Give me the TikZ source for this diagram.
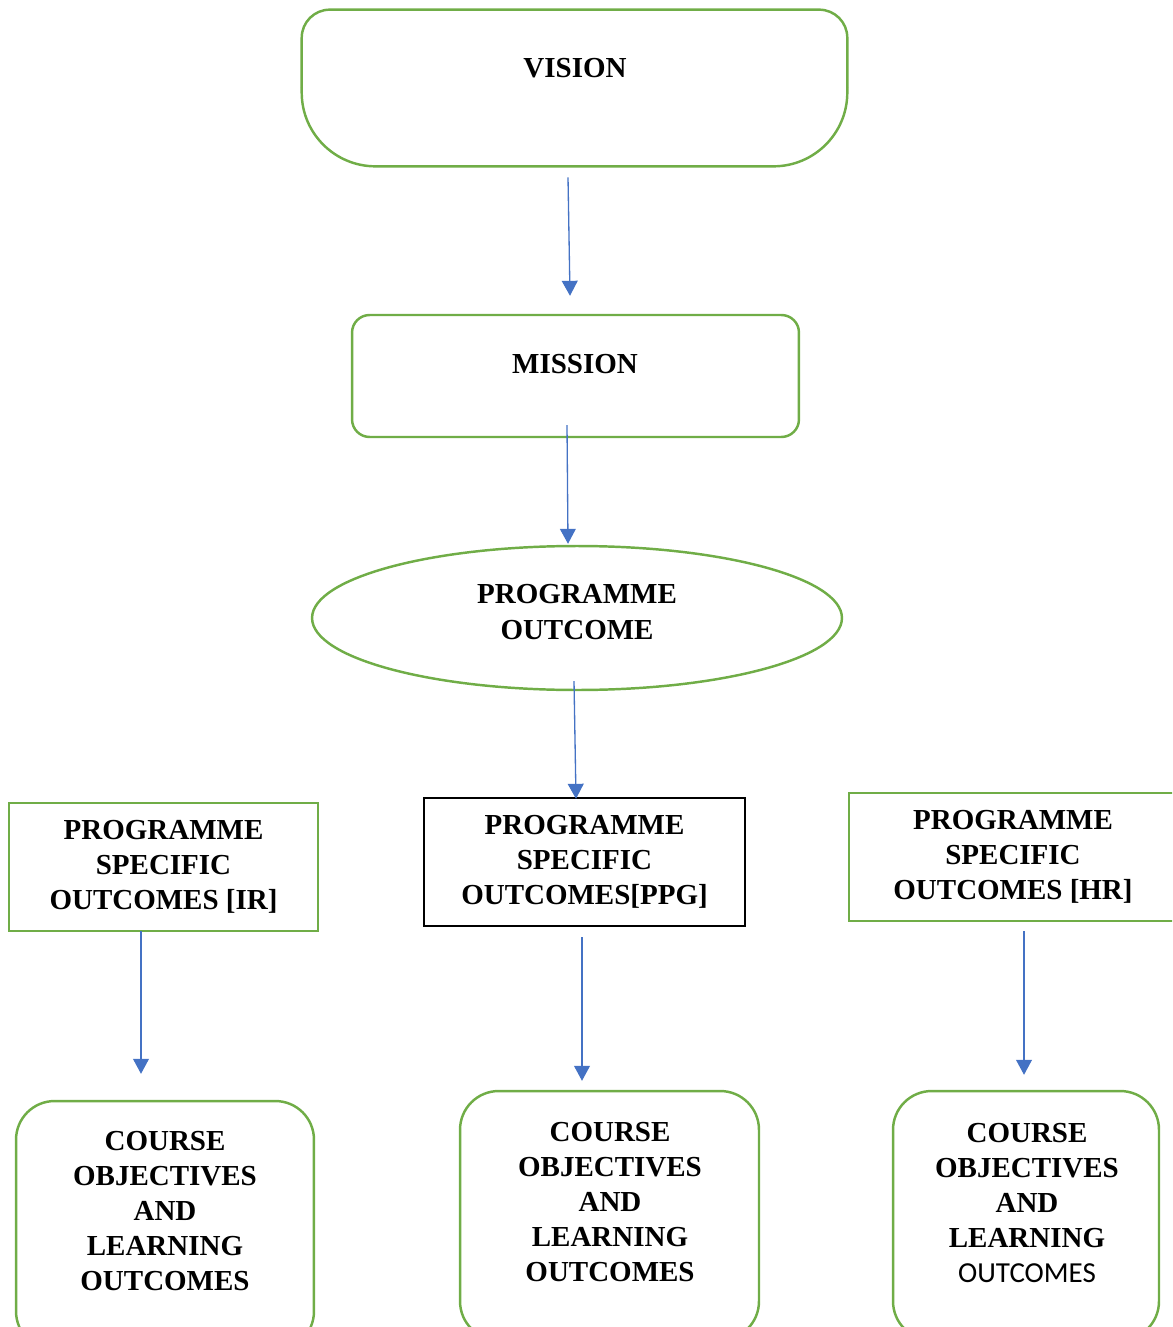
\documentclass[tikz,border=0pt]{standalone}
\usepackage{fontspec}
\setmainfont{Liberation Serif}
\newfontfamily\calibrifont{Carlito}
\usetikzlibrary{calc, positioning, arrows.meta, shapes}
\definecolor{boxgreen}{HTML}{70AD47}
\definecolor{arrowblue}{HTML}{4472C4}
\tikzset{
     outline/.style={draw=boxgreen, line width=1.4pt},
     heading/.style={font=\fontsize{16.5}{20}\selectfont\bfseries, align=center, inner sep=0pt},
     flow arrow/.style={draw=arrowblue, line width=0.75pt, -{Triangle[length=8.5pt,width=9pt]}},
     pso box/.style={outline, heading, rectangle, minimum height=2.56cm},
     course box/.style={outline, rectangle, rounded corners=22pt, minimum height=4.98cm},
}

\begin{document}
\begin{tikzpicture}[x=0.02cm, y=-0.02cm]

\useasboundingbox (0,0) rectangle (1172,1327);
\clip (0,0) rectangle (1172,1327);

% vision and mission
\node[minimum width=10.9cm, minimum height=3.12cm, inner sep=0pt] (vision) at (574.5,88) {};
\draw[outline, rounded corners=16pt] (vision.west) -- (vision.north west) -- (vision.north east) -- (vision.east);
\draw[outline, rounded corners=42pt] (vision.west) -- (vision.south west) -- (vision.south east) -- (vision.east);
\node[heading] (vision text) at (575,68) {VISION};

\node[outline, rounded corners=10pt, minimum width=8.94cm, minimum height=2.44cm] (mission) at (575.5,376) {};
\node[heading] (mission text) at (575,364) {MISSION};

\node[outline, ellipse, minimum width=10.6cm, minimum height=2.88cm, inner sep=0pt] (po) at (577,618) {};
\node[heading] (po text) at (577,612) {PROGRAMME\\OUTCOME};

% programme specific outcomes
\node[pso box, minimum width=6.18cm] (pso ir) at (163.5,867) {PROGRAMME\\SPECIFIC\\OUTCOMES [IR]};
\node[pso box, draw=black, minimum width=6.42cm] (pso ppg) at (584.5,862) {PROGRAMME\\SPECIFIC\\OUTCOMES[PPG]};
\node[pso box, minimum width=6.56cm] (pso hr) at (1013,857) {PROGRAMME\\SPECIFIC\\OUTCOMES [HR]};

% course objectives
\node[course box, minimum width=5.96cm] (course ir) at (165,1225.5) {};
\node[course box, minimum width=5.98cm] (course ppg) at (609.5,1215.5) {};
\node[course box, minimum width=5.32cm] (course hr) at (1026,1215.5) {};
\node[heading] (course ir text) at (165,1211) {COURSE\\OBJECTIVES\\AND\\LEARNING\\OUTCOMES};
\node[heading] (course ppg text) at (610,1202) {COURSE\\OBJECTIVES\\AND\\LEARNING\\OUTCOMES};
\node[heading] (course hr text) at (1027,1203) {COURSE\\OBJECTIVES\\AND\\LEARNING\\{\calibrifont\mdseries OUTCOMES}};

% arrows
\draw[flow arrow] ($(vision.south)+(-6.5,11)$) -- ($(mission.north)+(-5.5,-18)$);
\draw[flow arrow] ($(mission.south)+(-8.5,-13)$) -- ($(po.north)+(-9,-1)$);
\draw[flow arrow] ($(po.south)+(-3,-10)$) -- ($(pso ppg.north)+(-8.5,2)$);
\draw[flow arrow] ($(pso ir.south)+(-22.5,-1)$) -- ($(course ir.north)+(-24,-26)$);
\draw[flow arrow] ($(pso ppg.south)+(-2.5,10)$) -- ($(course ppg.north)+(-27.5,-9)$);
\draw[flow arrow] ($(pso hr.south)+(11,9)$) -- ($(course hr.north)+(-2,-15)$);

\end{tikzpicture}
\end{document}
